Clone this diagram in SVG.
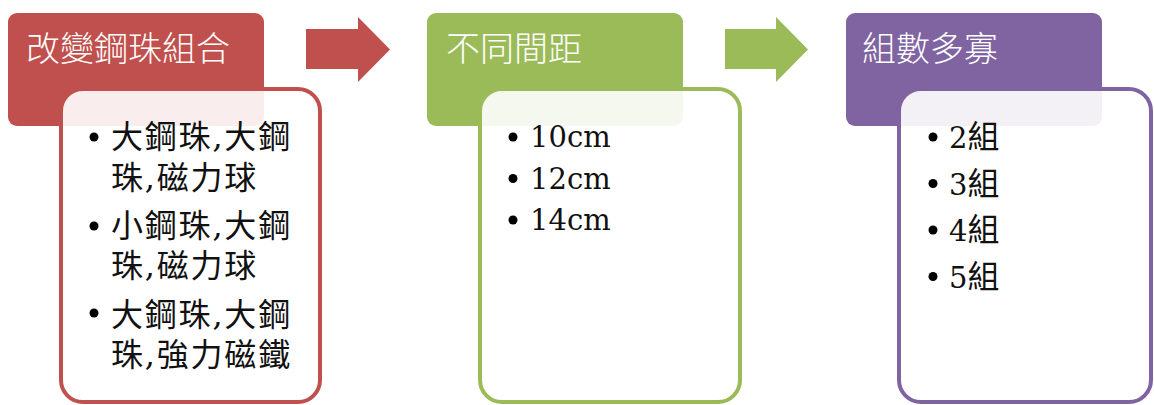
<svg xmlns="http://www.w3.org/2000/svg" width="1154" height="405" viewBox="0 0 1154 405">
<style>
.hd{font-family:"Noto Sans CJK TC","Noto Sans CJK SC",sans-serif;font-size:34px;font-weight:300;fill:#ffffff}
.bd{font-family:"DejaVu Serif","Noto Sans CJK TC",serif;fill:#111111}
.zh{font-size:32px;letter-spacing:1.8px}
.num{font-size:29px}
.cj{font-family:"Noto Sans CJK TC",sans-serif;font-size:32px}
.box{fill:#ffffff;fill-opacity:0.9;stroke-width:4}
.dot{fill:#000000}
</style>
<rect width="1154" height="405" fill="#ffffff"/>
<g id="connectors">
<polygon points="306,29 358,29 358,17 390,49.5 358,82 358,69 306,69" fill="#C0504D"/>
<polygon points="725,29 776,29 776,17 808,49.5 776,82 776,69 725,69" fill="#9BBB59"/>
</g>
<g id="node-red">
<rect x="8" y="13" width="256" height="113" rx="9" fill="#C0504D"/>
<text class="hd" x="26" y="61">改變鋼珠組合</text>
<rect class="box" x="61" y="89" width="259" height="313" rx="22" stroke="#C0504D"/>
<circle class="dot" cx="94" cy="137" r="4.5"/>
<circle class="dot" cx="94" cy="226" r="4.5"/>
<circle class="dot" cx="94" cy="313" r="4.5"/>
<g class="bd zh">
<text x="111" y="148">大鋼珠,大鋼</text>
<text x="111" y="189">珠,磁力球</text>
<text x="111" y="237">小鋼珠,大鋼</text>
<text x="111" y="277">珠,磁力球</text>
<text x="111" y="326">大鋼珠,大鋼</text>
<text x="111" y="366">珠,強力磁鐵</text>
</g>
</g>
<g id="node-green">
<rect x="427" y="13" width="256" height="113" rx="9" fill="#9BBB59"/>
<text class="hd" x="446" y="61">不同間距</text>
<rect class="box" x="480" y="89" width="260" height="313" rx="22" stroke="#9BBB59"/>
<circle class="dot" cx="513" cy="137" r="4.5"/>
<circle class="dot" cx="513" cy="178.5" r="4.5"/>
<circle class="dot" cx="513" cy="220" r="4.5"/>
<g class="bd num">
<text x="530" y="147">10cm</text>
<text x="530" y="188.5">12cm</text>
<text x="530" y="230">14cm</text>
</g>
</g>
<g id="node-purple">
<rect x="846" y="13" width="256" height="113" rx="9" fill="#8064A2"/>
<text class="hd" x="862" y="61">組數多寡</text>
<rect class="box" x="899" y="89" width="252" height="313" rx="22" stroke="#8064A2"/>
<circle class="dot" cx="933" cy="137" r="4.5"/>
<circle class="dot" cx="933" cy="183.5" r="4.5"/>
<circle class="dot" cx="933" cy="230" r="4.5"/>
<circle class="dot" cx="933" cy="276.5" r="4.5"/>
<g class="bd num">
<text x="949" y="148">2<tspan class="cj">組</tspan></text>
<text x="949" y="194.5">3<tspan class="cj">組</tspan></text>
<text x="949" y="241">4<tspan class="cj">組</tspan></text>
<text x="949" y="287.5">5<tspan class="cj">組</tspan></text>
</g>
</g>
</svg>
